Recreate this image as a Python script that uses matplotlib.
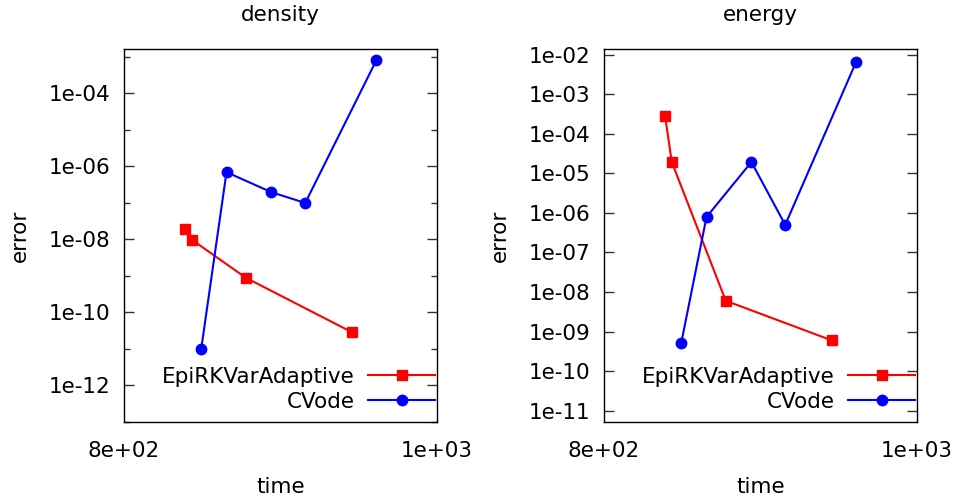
import matplotlib
matplotlib.use("Agg")
import matplotlib.pyplot as plt
import matplotlib.ticker as mticker
import numpy as np

plt.rcParams['font.family'] = ['DejaVu Sans']

# ---- data ----
titles = ["density", "energy"]
series_names = ["EpiRKVarAdaptive", "CVode"]

dens_epi_time = [839.0, 843.3, 877.8, 945.4]
dens_epi_err = [1.9e-8, 9.8e-9, 8.9e-10, 2.9e-11]
dens_cv_time = [849.3, 865.5, 894.2, 915.8, 961.2]
dens_cv_err = [9.7e-12, 6.9e-7, 1.95e-7, 9.9e-8, 7.9e-4]

ener_epi_time = [839.0, 843.3, 877.8, 945.4]
ener_epi_err = [2.9e-4, 1.95e-5, 6.0e-9, 6.0e-10]
ener_cv_time = [849.3, 865.5, 894.2, 915.8, 961.2]
ener_cv_err = [5.0e-10, 7.9e-7, 1.95e-5, 5.0e-7, 6.8e-3]

x_ticks = [800, 1000]
dens_major = [1e-12, 1e-10, 1e-8, 1e-6, 1e-4]
dens_minor = [1e-13, 1e-11, 1e-9, 1e-7, 1e-5, 1e-3]
ener_major = [1e-11, 1e-10, 1e-9, 1e-8, 1e-7, 1e-6, 1e-5, 1e-4, 1e-3, 1e-2]

fig = plt.figure(figsize=(9.57, 5.0), dpi=100)
ax1 = fig.add_axes([124/957, 78/500, 313/957, 373/500])
ax2 = fig.add_axes([604/957, 78/500, 313/957, 373/500])

fs = 15.5

def setup(ax, title, ylim, major, minor):
    ax.set_xlim(800, 1000)
    ax.set_yscale('log')
    ax.set_ylim(*ylim)
    ax.set_xticks(x_ticks)
    ax.xaxis.set_major_formatter(mticker.FuncFormatter(lambda v, p: f"{v:.0e}"))
    ax.yaxis.set_major_locator(mticker.FixedLocator(major))
    ax.yaxis.set_minor_locator(mticker.FixedLocator(minor))
    ax.yaxis.set_major_formatter(mticker.FuncFormatter(lambda v, p: f"{v:.0e}"))
    ax.yaxis.set_minor_formatter(mticker.NullFormatter())
    ax.tick_params(axis='y', which='major', direction='in', length=7.0, width=1,
                   left=True, right=True, labelsize=fs, pad=10, color='#333333')
    ax.tick_params(axis='y', which='minor', direction='in', length=4.0, width=1,
                   left=True, right=True, color='#333333')
    ax.tick_params(axis='x', which='major', direction='in', length=0, labelsize=fs, pad=14)
    ax.tick_params(axis='x', which='minor', length=0)
    for s in ax.spines.values():
        s.set_linewidth(1.0)
        s.set_color('black')
    ax.set_title(title, fontsize=fs, pad=20)
    ax.set_xlabel("time", fontsize=fs, labelpad=11)
    ax.set_ylabel("error", fontsize=fs, labelpad=13)

def draw(ax, et, ee, ct, ce):
    ax.plot(et, ee, color='#ff0000', lw=1.5, marker='s', ms=7.5, label=series_names[0])
    ax.plot(ct, ce, color='#0000ff', lw=1.5, marker='o', ms=7.5, label=series_names[1])
    ax.legend(loc='lower right', bbox_to_anchor=(0.9936, 0.028), frameon=False,
              markerfirst=False, fontsize=fs, handlelength=3.1, handletextpad=0.65,
              labelspacing=0.22, borderaxespad=0.0, borderpad=0.0)

draw(ax1, dens_epi_time, dens_epi_err, dens_cv_time, dens_cv_err)
setup(ax1, titles[0], (1e-13, 10**-2.79), dens_major, dens_minor)
draw(ax2, ener_epi_time, ener_epi_err, ener_cv_time, ener_cv_err)
setup(ax2, titles[1], (10**-11.29, 10**-1.85), ener_major, [])

fig.savefig("out.png", dpi=100)
